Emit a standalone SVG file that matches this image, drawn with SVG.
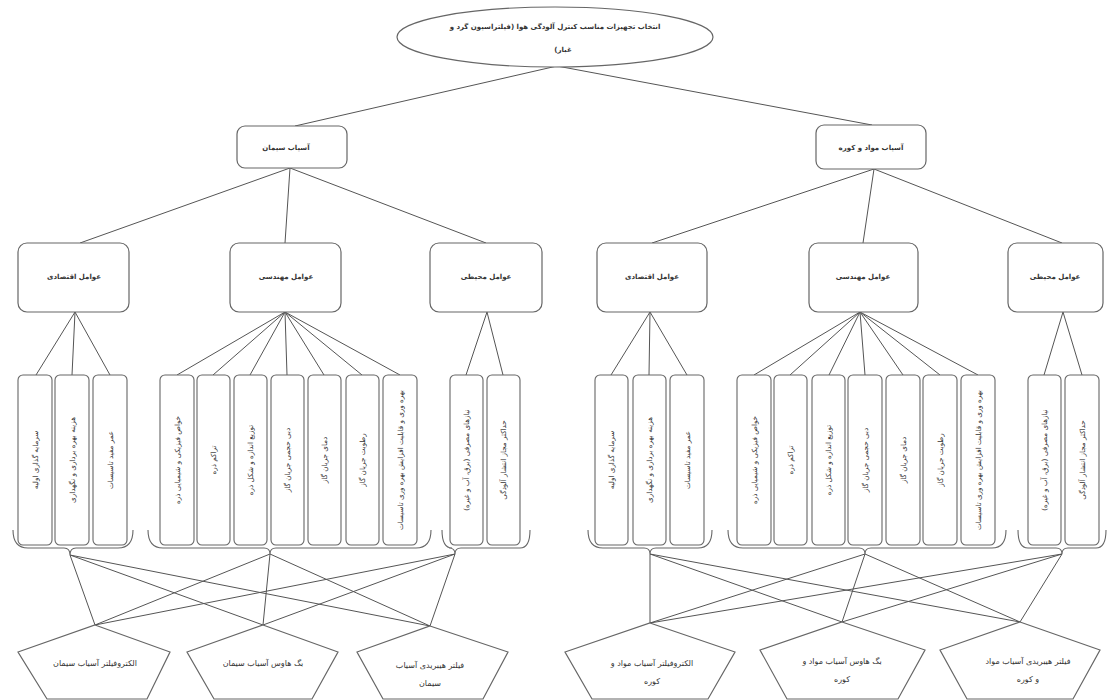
<svg xmlns="http://www.w3.org/2000/svg" width="1112" height="700" viewBox="0 0 1112 700">
<style>
.bg{fill:#fff}
.c{fill:none;stroke:#555;stroke-width:1}
.box{fill:#fff;stroke:#666;stroke-width:1.2}
.vb{fill:#fff;stroke:#666;stroke-width:1.1}
.br{fill:none;stroke:#666;stroke-width:1.1}
.t{font-family:"DejaVu Sans",sans-serif;font-size:7px;font-weight:bold;fill:#333;text-anchor:middle;direction:rtl}
.vt{font-family:"DejaVu Sans",sans-serif;font-size:7.2px;fill:#333;text-anchor:middle;direction:rtl}
.pt{font-family:"DejaVu Sans",sans-serif;font-size:8px;fill:#333;text-anchor:middle;direction:rtl}
</style>
<rect class="bg" x="0" y="0" width="1112" height="700"/>
<g id="connectors">
<path class="c" d="M557,66 L295,126 M557,66 L872,125"/>
<path class="c" d="M290,168 L80,243 M290,168 L285,243 M290,168 L486,243"/>
<path class="c" d="M874,169 L652,243 M874,169 L863,243 M874,169 L1062,243"/>
<path class="c" d="M75,312 L36,375 M75,312 L72,375 M75,312 L110,375"/>
<path class="c" d="M285,312 L177,375 M285,312 L213,375 M285,312 L250,375 M285,312 L287,375 M285,312 L324,375 M285,312 L362,375 M285,312 L400,375"/>
<path class="c" d="M487,312 L466,375 M487,312 L503,375"/>
<path class="c" d="M650,312 L611,375 M650,312 L649,375 M650,312 L687,375"/>
<path class="c" d="M860,312 L754,375 M860,312 L790,375 M860,312 L829,375 M860,312 L865,375 M860,312 L903,375 M860,312 L940,375 M860,312 L978,375"/>
<path class="c" d="M1063,312 L1044,375 M1063,312 L1082,375"/>
<path class="c" d="M70,555 L95,625 M70,555 L263,625 M70,555 L430,626 M270,554 L95,625 M270,554 L263,625 M270,554 L430,626 M455,554 L95,625 M455,554 L263,625 M455,554 L430,626"/>
<path class="c" d="M650,554 L650,623 M650,554 L842,622 M650,554 L1020,622 M865,554 L650,623 M865,554 L842,622 M865,554 L1020,622 M1062,554 L650,623 M1062,554 L842,622 M1062,554 L1020,622"/>
</g>
<g id="root">
<ellipse class="box" cx="555" cy="37" rx="158" ry="30"/>
<text class="t" x="555" y="29">انتخاب تجهیزات مناسب کنترل آلودگی هوا (فیلتراسیون گرد و</text>
<text class="t" x="563" y="52">غبار)</text>
</g>
<g id="n-cement">
<rect class="box" x="237" y="126" width="110" height="42" rx="8"/>
<text class="t" x="286" y="150">آسیاب سیمان</text>
</g>
<g id="n-raw">
<rect class="box" x="816" y="125" width="110" height="44" rx="8"/>
<text class="t" x="871" y="150">آسیاب مواد و کوره</text>
</g>
<g id="n-l-econ"><rect class="box" x="18" y="243" width="111" height="69" rx="9"/><text class="t" x="74" y="279">عوامل اقتصادی</text></g>
<g id="n-l-eng"><rect class="box" x="230" y="243" width="111" height="69" rx="9"/><text class="t" x="286" y="279">عوامل مهندسی</text></g>
<g id="n-l-env"><rect class="box" x="430" y="243" width="112" height="69" rx="9"/><text class="t" x="486" y="279">عوامل محیطی</text></g>
<g id="n-r-econ"><rect class="box" x="597" y="243" width="110" height="69" rx="9"/><text class="t" x="652" y="279">عوامل اقتصادی</text></g>
<g id="n-r-eng"><rect class="box" x="809" y="243" width="109" height="69" rx="9"/><text class="t" x="863" y="279">عوامل مهندسی</text></g>
<g id="n-r-env"><rect class="box" x="1008" y="243" width="95" height="69" rx="9"/><text class="t" x="1055" y="279">عوامل محیطی</text></g>

<g id="l-econ-items">
<g id="l1"><rect class="vb" x="18" y="375" width="34" height="170" rx="5"/><text class="vt" transform="translate(38,460) rotate(-90)">سرمایه گذاری اولیه</text></g>
<g id="l2"><rect class="vb" x="55" y="375" width="34" height="170" rx="5"/><text class="vt" transform="translate(75,460) rotate(-90)">هزینه بهره برداری و نگهداری</text></g>
<g id="l3"><rect class="vb" x="93" y="375" width="34" height="170" rx="5"/><text class="vt" transform="translate(113,460) rotate(-90)">عمر مفید تاسیسات</text></g>
</g>
<g id="l-eng-items">
<g id="l4"><rect class="vb" x="160" y="375" width="34" height="170" rx="5"/><text class="vt" transform="translate(180,460) rotate(-90)">خواص فیزیکی و شیمیایی ذره</text></g>
<g id="l5"><rect class="vb" x="197" y="375" width="33" height="170" rx="5"/><text class="vt" transform="translate(216,460) rotate(-90)">تراکم ذره</text></g>
<g id="l6"><rect class="vb" x="234" y="375" width="33" height="170" rx="5"/><text class="vt" transform="translate(253,460) rotate(-90)">توزیع اندازه و شکل ذره</text></g>
<g id="l7"><rect class="vb" x="271" y="375" width="33" height="170" rx="5"/><text class="vt" transform="translate(290,460) rotate(-90)">دبی حجمی جریان گاز</text></g>
<g id="l8"><rect class="vb" x="308" y="375" width="33" height="170" rx="5"/><text class="vt" transform="translate(327,460) rotate(-90)">دمای جریان گاز</text></g>
<g id="l9"><rect class="vb" x="346" y="375" width="33" height="170" rx="5"/><text class="vt" transform="translate(365,460) rotate(-90)">رطوبت جریان گاز</text></g>
<g id="l10"><rect class="vb" x="383" y="375" width="34" height="170" rx="5"/><text class="vt" transform="translate(403,460) rotate(-90)">بهره وری و قابلیت افزایش بهره وری تاسیسات</text></g>
</g>
<g id="l-env-items">
<g id="l11"><rect class="vb" x="450" y="375" width="33" height="170" rx="5"/><text class="vt" transform="translate(469,460) rotate(-90)">نیازهای مصرفی (برق، آب و غیره)</text></g>
<g id="l12"><rect class="vb" x="487" y="375" width="33" height="170" rx="5"/><text class="vt" transform="translate(506,460) rotate(-90)">حداکثر مجاز انتشار آلودگی</text></g>
</g>

<g id="r-econ-items">
<g id="r1"><rect class="vb" x="595" y="375" width="33" height="170" rx="5"/><text class="vt" transform="translate(614,460) rotate(-90)">سرمایه گذاری اولیه</text></g>
<g id="r2"><rect class="vb" x="633" y="375" width="33" height="170" rx="5"/><text class="vt" transform="translate(652,460) rotate(-90)">هزینه بهره برداری و نگهداری</text></g>
<g id="r3"><rect class="vb" x="670" y="375" width="34" height="170" rx="5"/><text class="vt" transform="translate(690,460) rotate(-90)">عمر مفید تاسیسات</text></g>
</g>
<g id="r-eng-items">
<g id="r4"><rect class="vb" x="737" y="375" width="34" height="170" rx="5"/><text class="vt" transform="translate(757,460) rotate(-90)">خواص فیزیکی و شیمیایی ذره</text></g>
<g id="r5"><rect class="vb" x="774" y="375" width="33" height="170" rx="5"/><text class="vt" transform="translate(793,460) rotate(-90)">تراکم ذره</text></g>
<g id="r6"><rect class="vb" x="812" y="375" width="33" height="170" rx="5"/><text class="vt" transform="translate(831,460) rotate(-90)">توزیع اندازه و شکل ذره</text></g>
<g id="r7"><rect class="vb" x="848" y="375" width="34" height="170" rx="5"/><text class="vt" transform="translate(868,460) rotate(-90)">دبی حجمی جریان گاز</text></g>
<g id="r8"><rect class="vb" x="886" y="375" width="34" height="170" rx="5"/><text class="vt" transform="translate(906,460) rotate(-90)">دمای جریان گاز</text></g>
<g id="r9"><rect class="vb" x="923" y="375" width="34" height="170" rx="5"/><text class="vt" transform="translate(943,460) rotate(-90)">رطوبت جریان گاز</text></g>
<g id="r10"><rect class="vb" x="961" y="375" width="34" height="170" rx="5"/><text class="vt" transform="translate(981,460) rotate(-90)">بهره وری و قابلیت افزایش بهره وری تاسیسات</text></g>
</g>
<g id="r-env-items">
<g id="r11"><rect class="vb" x="1028" y="375" width="33" height="170" rx="5"/><text class="vt" transform="translate(1047,460) rotate(-90)">نیازهای مصرفی (برق، آب و غیره)</text></g>
<g id="r12"><rect class="vb" x="1065" y="375" width="34" height="170" rx="5"/><text class="vt" transform="translate(1085,460) rotate(-90)">حداکثر مجاز انتشار آلودگی</text></g>
</g>

<g id="brackets">
<path class="br" d="M13,530 Q13,548 28,548 L64,548 Q70,548 70,555 Q70,548 76,548 L118,548 Q133,548 133,530"/>
<path class="br" d="M148,530 Q148,548 163,548 L264,548 Q270,548 270,554 Q270,548 276,548 L416,548 Q431,548 431,530"/>
<path class="br" d="M442,530 Q442,548 452,548 L449,548 Q455,548 455,554 Q455,548 461,548 L520,548 Q530,548 530,530"/>
<path class="br" d="M588,530 Q588,548 603,548 L644,548 Q650,548 650,554 Q650,548 656,548 L698,548 Q712,548 712,530"/>
<path class="br" d="M728,530 Q728,548 743,548 L859,548 Q865,548 865,554 Q865,548 871,548 L992,548 Q1006,548 1006,530"/>
<path class="br" d="M1018,530 Q1018,548 1028,548 L1056,548 Q1062,548 1062,554 Q1062,548 1068,548 L1096,548 Q1106,548 1106,530"/>
</g>

<g id="p1"><polygon class="box" points="95,625 170,652 147,699 47,699 18,652"/><text class="pt" x="95" y="666">الکتروفیلتر آسیاب سیمان</text></g>
<g id="p2"><polygon class="box" points="263,625 338,652 312,699 214,699 187,652"/><text class="pt" x="263" y="666">بگ هاوس آسیاب سیمان</text></g>
<g id="p3"><polygon class="box" points="430,626 508,652 483,699 383,699 357,652"/><text class="pt" x="430" y="668">فیلتر هیبریدی آسیاب</text><text class="pt" x="430" y="686">سیمان</text></g>
<g id="p4"><polygon class="box" points="650,623 735,652 708,699 592,699 565,652"/><text class="pt" x="652" y="666">الکتروفیلتر آسیاب مواد و</text><text class="pt" x="652" y="684">کوره</text></g>
<g id="p5"><polygon class="box" points="842,622 925,650 898,699 787,699 760,650"/><text class="pt" x="842" y="664">بگ هاوس آسیاب مواد و</text><text class="pt" x="842" y="682">کوره</text></g>
<g id="p6"><polygon class="box" points="1020,622 1100,650 1073,699 967,699 940,650"/><text class="pt" x="1028" y="664">فیلتر هیبریدی آسیاب مواد</text><text class="pt" x="1028" y="682">و کوره</text></g>
</svg>
